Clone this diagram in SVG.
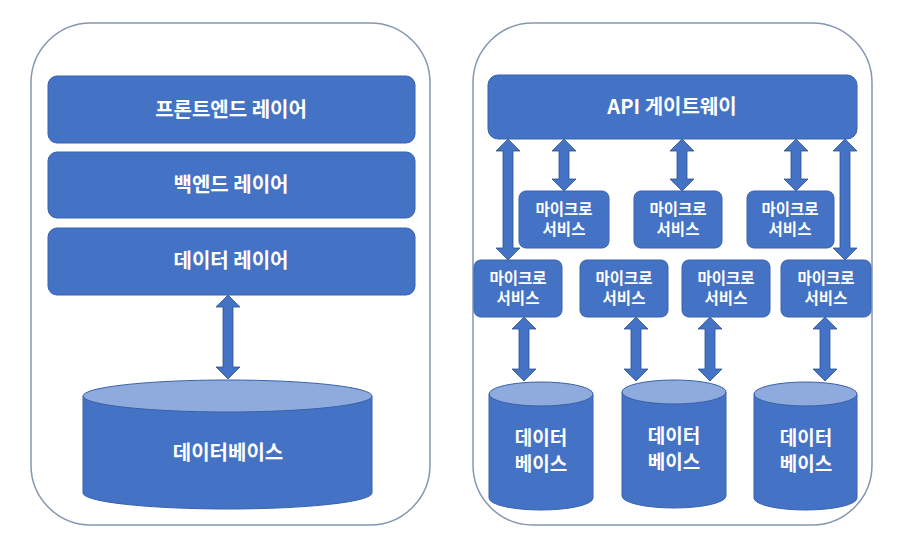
<svg xmlns="http://www.w3.org/2000/svg" width="900" height="556" viewBox="0 0 900 556">
<style>
.cont{fill:#fff;stroke:#8497B0;stroke-width:1.5}
.box{fill:#4472C4;stroke:#3A62AC;stroke-width:1}
.top{fill:#8FAADC;stroke:#3A62AC;stroke-width:1}
.arr{fill:#4472C4;stroke:#2F528F;stroke-width:0.8}
.t{font-family:"Noto Sans CJK KR","Noto Sans",sans-serif;font-weight:bold;fill:#fff;text-anchor:middle}
.l{font-size:20px}
.m{font-size:15.5px}
.d{font-size:19px}
</style>
<rect width="900" height="556" fill="#fff"/>
<g id="monolith">
<rect class="cont" x="31" y="23" width="399" height="502" rx="60"/>
</g>
<g id="msa">
<rect class="cont" x="473" y="23" width="399" height="502" rx="60"/>
</g>
<g id="connectors">
<path class="arr" d="M228 295 l12 12 h-7 v60 h7 l-12 12 l-12 -12 h7 v-60 h-7 z"/>
<path class="arr" d="M508 139 l12 12 h-7 v97 h7 l-12 12 l-12 -12 h7 v-97 h-7 z"/>
<path class="arr" d="M564 139 l12 12 h-7 v28 h7 l-12 12 l-12 -12 h7 v-28 h-7 z"/>
<path class="arr" d="M682 139 l12 12 h-7 v28 h7 l-12 12 l-12 -12 h7 v-28 h-7 z"/>
<path class="arr" d="M796 139 l12 12 h-7 v28 h7 l-12 12 l-12 -12 h7 v-28 h-7 z"/>
<path class="arr" d="M845 139 l12 12 h-7 v97 h7 l-12 12 l-12 -12 h7 v-97 h-7 z"/>
<path class="arr" d="M524 317 l12 12 h-7 v40 h7 l-12 12 l-12 -12 h7 v-40 h-7 z"/>
<path class="arr" d="M636 317 l12 12 h-7 v40 h7 l-12 12 l-12 -12 h7 v-40 h-7 z"/>
<path class="arr" d="M710 317 l12 12 h-7 v40 h7 l-12 12 l-12 -12 h7 v-40 h-7 z"/>
<path class="arr" d="M825 317 l12 12 h-7 v40 h7 l-12 12 l-12 -12 h7 v-40 h-7 z"/>
</g>
<g id="frontend">
<rect class="box" x="48" y="76" width="367" height="67" rx="9"/>
<text class="t l" x="231" y="117">프론트엔드 레이어</text>
</g>
<g id="backend">
<rect class="box" x="48" y="152" width="367" height="66" rx="9"/>
<text class="t l" x="231" y="192">백엔드 레이어</text>
</g>
<g id="datalayer">
<rect class="box" x="48" y="228" width="367" height="67" rx="9"/>
<text class="t l" x="231" y="268">데이터 레이어</text>
</g>
<g id="db-mono">
<path class="box" d="M83 396 V493 A144.5 16 0 0 0 372 493 V396 Z"/>
<ellipse class="top" cx="227.5" cy="396" rx="144.5" ry="16"/>
<text class="t l" x="228" y="460">데이터베이스</text>
</g>
<g id="gateway">
<rect class="box" x="488" y="75" width="369" height="64" rx="10"/>
<text class="t l" x="672" y="114">API 게이트웨이</text>
</g>
<g id="ms-u1">
<rect class="box" x="519" y="191" width="90" height="57" rx="7"/>
<text class="t m" x="564" y="215">마이크로</text><text class="t m" x="564" y="235">서비스</text>
</g>
<g id="ms-u2">
<rect class="box" x="634" y="191" width="88" height="57" rx="7"/>
<text class="t m" x="678" y="215">마이크로</text><text class="t m" x="678" y="235">서비스</text>
</g>
<g id="ms-u3">
<rect class="box" x="747" y="191" width="87" height="57" rx="7"/>
<text class="t m" x="790" y="215">마이크로</text><text class="t m" x="790" y="235">서비스</text>
</g>
<g id="ms-l1">
<rect class="box" x="474" y="260" width="88" height="57" rx="7"/>
<text class="t m" x="518" y="284">마이크로</text><text class="t m" x="518" y="304">서비스</text>
</g>
<g id="ms-l2">
<rect class="box" x="580" y="260" width="88" height="57" rx="7"/>
<text class="t m" x="624" y="284">마이크로</text><text class="t m" x="624" y="304">서비스</text>
</g>
<g id="ms-l3">
<rect class="box" x="682" y="260" width="88" height="57" rx="7"/>
<text class="t m" x="726" y="284">마이크로</text><text class="t m" x="726" y="304">서비스</text>
</g>
<g id="ms-l4">
<rect class="box" x="781" y="260" width="90" height="57" rx="7"/>
<text class="t m" x="826" y="284">마이크로</text><text class="t m" x="826" y="304">서비스</text>
</g>
<g id="db1">
<path class="box" d="M489 394 V498 A52 12 0 0 0 593 498 V394 Z"/>
<ellipse class="top" cx="541" cy="394" rx="52" ry="12"/>
<text class="t d" x="541" y="445">데이터</text><text class="t d" x="541" y="471">베이스</text>
</g>
<g id="db2">
<path class="box" d="M622 392 V496 A52 12 0 0 0 726 496 V392 Z"/>
<ellipse class="top" cx="674" cy="392" rx="52" ry="12"/>
<text class="t d" x="674" y="443">데이터</text><text class="t d" x="674" y="469">베이스</text>
</g>
<g id="db3">
<path class="box" d="M754 394 V498 A51.5 12 0 0 0 857 498 V394 Z"/>
<ellipse class="top" cx="805.5" cy="394" rx="51.5" ry="12"/>
<text class="t d" x="806" y="445">데이터</text><text class="t d" x="806" y="471">베이스</text>
</g>
</svg>
